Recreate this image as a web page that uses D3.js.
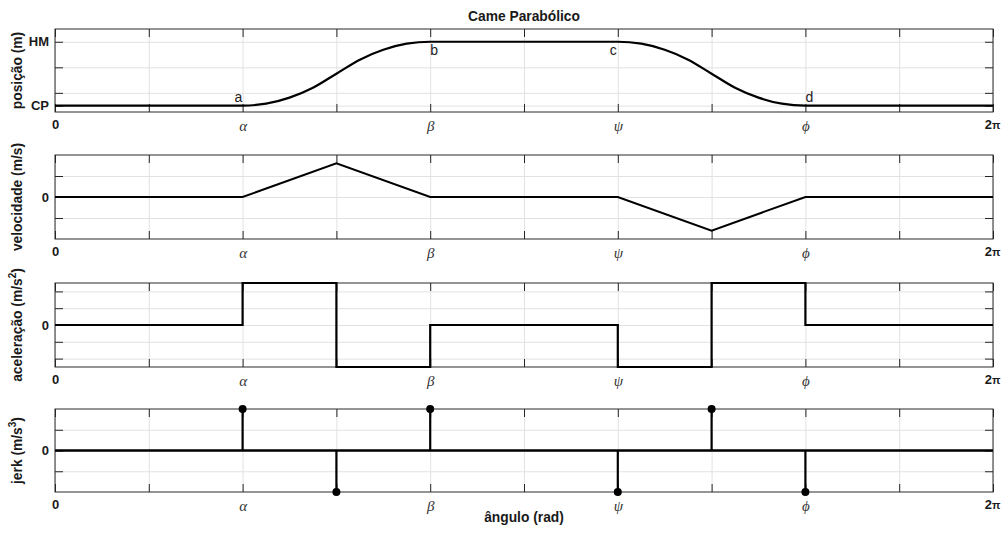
<!DOCTYPE html>
<html>
<head>
<meta charset="utf-8">
<script src="https://cdn.jsdelivr.net/npm/d3@7"></script>
<style>
    body{margin:0;background:#fff;}
    svg text{font-family:"Liberation Sans",Arial,Helvetica,sans-serif;}
    .grid path,.tk path,.lbl path{display:none;}
    .grid line{stroke:#e2e2e2;}
    .tk line{stroke:#262626;}
</style>
</head>
<body>
<script>
// eixo x: angulo em decimos de volta (0 .. 2pi)
const angleTicks = [0,1,2,3,4,5,6,7,8,9,10];
const angleLabels = ['0','','α','','β','','ψ','','ϕ','','2π'];

// posição (CP = 0, HM = 1)
const posX = [0,2,2.25,2.5,2.75,3,3.25,3.5,3.75,4,6,6.25,6.5,6.75,7,7.25,7.5,7.75,8,10];
const posY = [0,0,0.03,0.125,0.28,0.5,0.72,0.875,0.97,1,1,0.97,0.875,0.72,0.5,0.28,0.125,0.03,0,0];
const posTicks = [0,0.2,0.6,1];
const posTickLabels = ['CP','','','HM'];

// velocidade
const velX = [0,2,3,4,6,7,8,10];
const velY = [0,0,0.8,0,0,-0.8,0,0];
const velTicks = [-0.5,0,0.5];
const velTickLabels = ['','0',''];

// aceleração (degraus)
const accX = [0,2,3,4,6,7,8,10];
const accY = [0,2.5,-2.5,0,-2.5,2.5,0,0];
const accTicks = [-2,-1,0,1,2];
const accTickLabels = ['','','0','',''];

// jerk (impulsos)
const jerkX = [2,3,4,6,7,8];
const jerkY = [1,-1,1,-1,1,-1];
const jerkTicks = [-0.5,0,0.5];
const jerkTickLabels = ['','0',''];

// pontos a, b, c, d
const ptNames = ['a','b','c','d'];
const ptX = [2,4,6,8];
const ptY = [0,1,1,0];

const width = 1004, height = 535;
const left = 55, right = 993;
const tops = [29,155,283,409];
const heights = [83,84,84,83];

let svg = d3.select('body')
    .append('svg')
    .attr('width',width)
    .attr('height',height);

let x = d3.scaleLinear()
    .domain([0,10])
    .range([left,right]);

function panel(i, opt){
    let top = tops[i], h = heights[i], bottom = top + h;
    let y = d3.scaleLinear()
        .domain(opt.dom)
        .range([bottom, top]);

    // grade
    svg.append('g')
        .attr('class','grid')
        .attr('transform','translate(0,'+bottom+')')
        .call(d3.axisBottom(x).tickValues(angleTicks).tickSize(-h).tickFormat(''));
    svg.append('g')
        .attr('class','grid')
        .attr('transform','translate('+left+',0)')
        .call(d3.axisLeft(y).tickValues(opt.ticks).tickSize(-(right-left)).tickFormat(''));

    // caixa
    svg.append('rect')
        .attr('x',left).attr('y',top)
        .attr('width',right-left).attr('height',h)
        .attr('fill','none')
        .attr('stroke','#2b2b2b')
        .attr('stroke-width',1);

    // marcas para dentro nos quatro lados
    svg.append('g').attr('class','tk')
        .attr('transform','translate(0,'+bottom+')')
        .call(d3.axisBottom(x).tickValues(angleTicks).tickSize(-8).tickFormat(''));
    svg.append('g').attr('class','tk')
        .attr('transform','translate(0,'+top+')')
        .call(d3.axisTop(x).tickValues(angleTicks).tickSize(-8).tickFormat(''));
    svg.append('g').attr('class','tk')
        .attr('transform','translate('+left+',0)')
        .call(d3.axisLeft(y).tickValues(opt.ticks).tickSize(-8).tickFormat(''));
    svg.append('g').attr('class','tk')
        .attr('transform','translate('+right+',0)')
        .call(d3.axisRight(y).tickValues(opt.ticks).tickSize(-8).tickFormat(''));

    // rotulos eixo x
    let xl = svg.append('g').attr('class','lbl')
        .attr('transform','translate(0,'+bottom+')')
        .call(d3.axisBottom(x).tickValues(angleTicks).tickSize(0).tickPadding(8)
            .tickFormat(function(d,j){ return angleLabels[j]; }));
    xl.selectAll('line').remove();
    xl.selectAll('text')
        .attr('font-size',13)
        .attr('fill','#1a1a1a')
        .each(function(d,j){
            let t = d3.select(this);
            let s = angleLabels[j];
            if (s === '0') {
                t.attr('font-weight','bold');
            } else if (s === '2π') {
                t.text('').attr('text-anchor','end').attr('x',7);
                t.append('tspan').attr('font-weight','bold').text('2');
                t.append('tspan').attr('font-weight','bold').attr('font-size',11).text('π');
            } else if (s !== '') {
                t.style('font-family','"Liberation Serif","DejaVu Serif",serif')
                    .attr('font-style','italic')
                    .attr('font-size',15)
                    .attr('fill','#333');
            }
        });

    // rotulos eixo y
    let yl = svg.append('g').attr('class','lbl')
        .attr('transform','translate('+left+',0)')
        .call(d3.axisLeft(y).tickValues(opt.ticks).tickSize(0).tickPadding(6)
            .tickFormat(function(d,j){ return opt.labels[j]; }));
    yl.selectAll('line').remove();
    yl.selectAll('text')
        .attr('font-size',13)
        .attr('font-weight','bold')
        .attr('fill','#1a1a1a');

    // titulo do eixo y
    let yt = svg.append('text')
        .attr('transform','translate(22,'+((top+bottom)/2)+') rotate(-90)')
        .attr('text-anchor','middle')
        .attr('font-size',13.8)
        .attr('font-weight','bold')
        .attr('fill','#1a1a1a');
    opt.title.forEach(function(p){
        let ts = yt.append('tspan').text(p[0]);
        if (p[1] === 'sup') {
            ts.attr('font-size',10).attr('dy',-6);
        } else if (p[1] === 'after') {
            ts.attr('dy',6);
        }
    });
    return y;
}

let line = function(y, curve){
    return d3.line()
        .x(function(d){ return x(d[0]); })
        .y(function(d){ return y(d[1]); })
        .curve(curve || d3.curveLinear);
};

// 1 - posição
let yPos = panel(0,{dom:[-0.1,1.2], ticks:posTicks, labels:posTickLabels, title:[['posição (m)']]});
svg.append('path')
    .datum(d3.zip(posX,posY))
    .attr('d',line(yPos,d3.curveMonotoneX))
    .attr('fill','none')
    .attr('stroke','#000')
    .attr('stroke-width',2.2);
svg.selectAll('.pt')
    .data(ptNames)
    .enter()
    .append('text')
    .attr('class','pt')
    .attr('x',function(d,i){ return x(ptX[i]) + (i===0 ? -8 : i===2 ? -1 : 0); })
    .attr('y',function(d,i){ return yPos(ptY[i]) + (ptY[i] > 0.5 ? 13 : -4); })
    .attr('text-anchor',function(d,i){ return i===2 ? 'end' : 'start'; })
    .attr('font-size',14)
    .attr('fill','#222')
    .text(function(d){ return d; });

svg.append('text')
    .attr('x',(left+right)/2)
    .attr('y',21)
    .attr('text-anchor','middle')
    .attr('font-size',13.8)
    .attr('font-weight','bold')
    .attr('fill','#1a1a1a')
    .text('Came Parabólico');

// 2 - velocidade
let yVel = panel(1,{dom:[-1,1], ticks:velTicks, labels:velTickLabels, title:[['velocidade (m/s)']]});
svg.append('path')
    .datum(d3.zip(velX,velY))
    .attr('d',line(yVel))
    .attr('fill','none')
    .attr('stroke','#000')
    .attr('stroke-width',2);

// 3 - aceleração
let yAcc = panel(2,{dom:[-2.5,2.5], ticks:accTicks, labels:accTickLabels,
    title:[['aceleração (m/s'],['2','sup'],[')','after']]});
svg.append('path')
    .datum(d3.zip(accX,accY))
    .attr('d',line(yAcc,d3.curveStepAfter))
    .attr('fill','none')
    .attr('stroke','#000')
    .attr('stroke-width',2.2);

// 4 - jerk
let yJerk = panel(3,{dom:[-1,1], ticks:jerkTicks, labels:jerkTickLabels,
    title:[['jerk (m/s'],['3','sup'],[')','after']]});
svg.append('line')
    .attr('x1',x(0)).attr('x2',x(10))
    .attr('y1',yJerk(0)).attr('y2',yJerk(0))
    .attr('stroke','#000')
    .attr('stroke-width',2.6);
let stems = svg.selectAll('.stem')
    .data(d3.zip(jerkX,jerkY))
    .enter()
    .append('g')
    .attr('class','stem');
stems.append('line')
    .attr('x1',function(d){ return x(d[0]); })
    .attr('x2',function(d){ return x(d[0]); })
    .attr('y1',yJerk(0))
    .attr('y2',function(d){ return yJerk(d[1]); })
    .attr('stroke','#000')
    .attr('stroke-width',2.2);
stems.append('circle')
    .attr('cx',function(d){ return x(d[0]); })
    .attr('cy',function(d){ return yJerk(d[1]); })
    .attr('r',4)
    .attr('fill','#000');

svg.append('text')
    .attr('x',(left+right)/2)
    .attr('y',522)
    .attr('text-anchor','middle')
    .attr('font-size',13.8)
    .attr('font-weight','bold')
    .attr('fill','#1a1a1a')
    .text('ângulo (rad)');
</script>
</body>
</html>
